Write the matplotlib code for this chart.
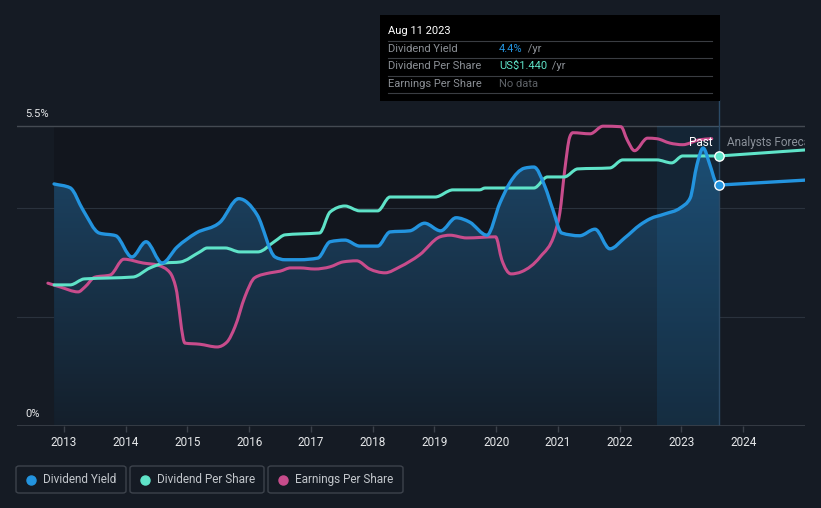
#!/usr/bin/env python
"""Dividend yield / DPS / EPS history chart, dark theme"""

import matplotlib
matplotlib.use('Agg')
import matplotlib.pyplot as plt
import matplotlib.patches as mpatches
from matplotlib.lines import Line2D
from matplotlib.path import Path
import numpy as np

plt.rcParams['font.family'] = ['Roboto', 'DejaVu Sans']

# --- data ---
yield_years = [2012.84, 2013.10, 2013.31, 2013.57, 2013.84, 2014.10, 2014.33, 2014.59, 2014.83,
               2015.14, 2015.53, 2015.83, 2016.13, 2016.42, 2016.58, 2016.82, 2017.11, 2017.31,
               2017.55, 2017.79, 2018.08, 2018.28, 2018.60, 2018.84, 2019.10, 2019.35, 2019.57,
               2019.85, 2020.06, 2020.22, 2020.46, 2020.61, 2020.79, 2020.92, 2021.06, 2021.35,
               2021.60, 2021.84, 2022.08, 2022.33, 2022.49, 2022.73, 2022.98, 2023.14, 2023.25,
               2023.35, 2023.46, 2023.56, 2023.61]
yield_pct = [4.44, 4.37, 3.96, 3.54, 3.49, 3.10, 3.38, 2.99, 3.28,
             3.54, 3.74, 4.17, 3.87, 3.10, 3.05, 3.05, 3.08, 3.38,
             3.41, 3.30, 3.30, 3.56, 3.58, 3.72, 3.58, 3.82, 3.74,
             3.50, 4.09, 4.46, 4.73, 4.75, 4.39, 3.96, 3.54, 3.49,
             3.61, 3.25, 3.45, 3.69, 3.80, 3.89, 4.00, 4.18, 4.79,
             5.10, 4.79, 4.46, 4.42]
yield_fc_years = [2023.61, 2025.0]
yield_fc_pct = [4.42, 4.51]

dps_years = [2012.84, 2013.10, 2013.33, 2013.75, 2014.12, 2014.39, 2014.64, 2014.88, 2015.20,
             2015.32, 2015.61, 2015.85, 2016.14, 2016.42, 2016.58, 2016.82, 2017.14, 2017.31,
             2017.55, 2017.79, 2018.08, 2018.28, 2019.01, 2019.30, 2019.73, 2019.82, 2020.61,
             2020.83, 2021.10, 2021.32, 2021.84, 2022.05, 2022.60, 2022.84, 2023.02, 2023.61]
dps_usd = [0.753, 0.753, 0.785, 0.790, 0.795, 0.843, 0.870, 0.875, 0.929,
           0.950, 0.950, 0.929, 0.929, 0.987, 1.020, 1.025, 1.030, 1.142,
           1.174, 1.148, 1.148, 1.222, 1.222, 1.260, 1.260, 1.270, 1.270,
           1.329, 1.329, 1.372, 1.377, 1.420, 1.420, 1.404, 1.441, 1.441]
dps_fc_years = [2023.61, 2025.0]
dps_fc_usd = [1.441, 1.473]
DPS_AXIS_MAX = 1.6  # hidden DPS axis: 0..1.6 maps onto 0..5.5%

# EPS is drawn on its own hidden scale; values here are already in chart units
eps_years = [2012.74, 2012.94, 2013.23, 2013.34, 2013.50, 2013.75, 2013.97, 2014.28, 2014.52,
             2014.72, 2014.81, 2014.96, 2015.20, 2015.48, 2015.64, 2015.77, 2015.93, 2016.09,
             2016.34, 2016.50, 2016.67, 2016.82, 2017.06, 2017.31, 2017.52, 2017.74, 2017.95,
             2018.20, 2018.44, 2018.76, 2019.09, 2019.25, 2019.52, 2019.99, 2020.09, 2020.24,
             2020.41, 2020.71, 2020.95, 2021.03, 2021.11, 2021.19, 2021.24, 2021.52, 2021.73,
             2022.02, 2022.12, 2022.24, 2022.45, 2022.60, 2022.81, 2023.02, 2023.29, 2023.49]
eps_scaled = [2.62, 2.55, 2.46, 2.55, 2.73, 2.77, 3.06, 2.99, 2.95,
              2.81, 2.55, 1.52, 1.50, 1.45, 1.54, 1.82, 2.37, 2.72,
              2.81, 2.84, 2.90, 2.90, 2.88, 2.92, 3.01, 3.03, 2.88,
              2.81, 2.92, 3.14, 3.47, 3.50, 3.45, 3.47, 3.05, 2.79,
              2.83, 3.10, 3.54, 3.91, 4.70, 5.30, 5.38, 5.36, 5.50,
              5.49, 5.25, 5.05, 5.28, 5.27, 5.19, 5.16, 5.25, 5.27]

tick_years = list(range(2013, 2025))
today = 2023.61
highlight_start = 2022.60

BG = '#151b24'
BLUE = '#2394df'
TEAL = '#5fe3c8'
PINK = '#c84c8c'
W, H = 821, 508


def monotone_path(xs, ys):
    """Bezier path through the points with monotone-x tangents (smooth line look)."""
    x = np.asarray(xs, float)
    y = np.asarray(ys, float)
    h = np.diff(x)
    s = np.diff(y) / h
    m = np.zeros(len(x))
    m[0], m[-1] = s[0], s[-1]
    for i in range(1, len(x) - 1):
        p = (s[i - 1] * h[i] + s[i] * h[i - 1]) / (h[i - 1] + h[i])
        m[i] = (np.sign(s[i - 1]) + np.sign(s[i])) * min(abs(s[i - 1]), abs(s[i]), 0.5 * abs(p))
    verts = [(x[0], y[0])]
    codes = [Path.MOVETO]
    for i in range(len(x) - 1):
        d = h[i] / 3
        verts += [(x[i] + d, y[i] + m[i] * d), (x[i + 1] - d, y[i + 1] - m[i + 1] * d), (x[i + 1], y[i + 1])]
        codes += [Path.CURVE4] * 3
    return verts, codes


def smooth_line(ax, xs, ys, color, lw, z):
    verts, codes = monotone_path(xs, ys)
    ax.add_patch(mpatches.PathPatch(Path(verts, codes), facecolor='none', edgecolor=color,
                                    lw=lw, zorder=z, joinstyle='round', capstyle='round'))


fig = plt.figure(figsize=(W / 100, H / 100), dpi=100, facecolor=BG)
ax = fig.add_axes([17 / W, (H - 426) / H, (805 - 17) / W, (426 - 100) / H])
ax.set_facecolor(BG)
ax.set_xlim(2012.24, 2025.0)
ax.set_ylim(0, 5.98)
for s in ax.spines.values():
    s.set_visible(False)

# darker "past" area
ax.fill_between([yield_years[0], today], 0, 5.5, color='#12161e', zorder=0, lw=0)

# grid
for g in [2, 4]:
    ax.axhline(g, color='#2a323d', lw=0.8, zorder=1)
ax.axhline(5.5, color='#444a52', lw=1.0, zorder=1)
ax.axhline(0, color='#3b414a', lw=1.2, zorder=5)

# gradient fill under dividend yield (clipped to the smoothed area)
verts, codes = monotone_path(yield_years, yield_pct)
verts += [(yield_years[-1], 0), (yield_years[0], 0), (yield_years[0], 0)]
codes += [Path.LINETO, Path.LINETO, Path.CLOSEPOLY]
area = mpatches.PathPatch(Path(verts, codes), facecolor='none', edgecolor='none', transform=ax.transData)
ax.add_patch(area)
grad = np.linspace(0, 1, 256).reshape(-1, 1)
cmap = matplotlib.colors.LinearSegmentedColormap.from_list('g', ['#141f2b', '#1c4566'])
im = ax.imshow(grad, cmap=cmap, origin='lower', aspect='auto',
               extent=[yield_years[0], today, 0, max(yield_pct)], zorder=2)
im.set_clip_path(area)

# last-year highlight band and today marker
ax.fill_between([highlight_start, today], 0, 5.5, color=BLUE, alpha=0.12, lw=0, zorder=3)
ax.plot([today, today], [0, 5.98], color='#2b4a66', lw=1.0, zorder=3)

# lines
dps_plot = [v * 5.5 / DPS_AXIS_MAX for v in dps_usd]
dps_fc_plot = [v * 5.5 / DPS_AXIS_MAX for v in dps_fc_usd]
smooth_line(ax, eps_years, eps_scaled, PINK, 2.2, 6)
smooth_line(ax, dps_years, dps_plot, TEAL, 2.2, 6)
ax.plot(dps_fc_years, dps_fc_plot, color=TEAL, lw=2.2, zorder=6)
smooth_line(ax, yield_years, yield_pct, BLUE, 2.4, 7)
ax.plot(yield_fc_years, yield_fc_pct, color=BLUE, lw=2.4, zorder=7)
ax.scatter([today], [dps_plot[-1]], s=45, color=TEAL, edgecolors='white', linewidths=1.0, zorder=9)
ax.scatter([today], [yield_pct[-1]], s=45, color=BLUE, edgecolors='white', linewidths=1.0, zorder=9)

# labels inside the plot
ax.text(today - 0.1, 5.2, 'Past', color='white', fontsize=8.5, ha='right', va='center', zorder=10)
ax.text(today + 0.13, 5.2, 'Analysts Forecasts', color='#8a9099', fontsize=8.5,
        ha='left', va='center', zorder=10, clip_on=True)

# y labels
ax.text(0.01, 5.5 + 0.22, '5.5%', transform=ax.get_yaxis_transform(), color='#e6e8ea',
        fontsize=8, ha='left', va='center')
ax.text(0.01, 0.22, '0%', transform=ax.get_yaxis_transform(), color='#e6e8ea',
        fontsize=8, ha='left', va='center')
ax.set_yticks([])

# x ticks
ax.set_xticks(tick_years)
ax.set_xticklabels([str(y) for y in tick_years])
ax.tick_params(axis='x', colors='#3b414a', length=4, width=1, labelcolor='#e6e8ea',
               labelsize=8.5, pad=3)

# tooltip box
def fx(px):
    return px / W

def fy(py):
    return 1 - py / H

fig.patches.append(mpatches.Rectangle((fx(380), fy(101)), fx(720) - fx(380), fy(15) - fy(101),
                                      transform=fig.transFigure, facecolor='black', edgecolor='none', zorder=20))
fig.text(fx(388), fy(31), 'Aug 11 2023', color='white', fontsize=8, va='center', zorder=21)
rows = [('Dividend Yield', '4.4%', BLUE, 49), ('Dividend Per Share', 'US$1.440', TEAL, 66),
        ('Earnings Per Share', 'No data', '#5e6267', 84)]
for label, value, col, py in rows:
    fig.text(fx(388), fy(py), label, color='#8c9096', fontsize=8, va='center', zorder=21)
    t = fig.text(fx(499), fy(py), value, color=col, fontsize=8, va='center', zorder=21)
    if value != 'No data':
        fig.canvas.draw()
        bb = t.get_window_extent()
        fig.text(bb.x1 / W + 2 / W, fy(py), ' /yr', color='#8c9096', fontsize=8, va='center', zorder=21)
for py in [41, 58, 76, 93]:
    fig.add_artist(Line2D([fx(388), fx(712)], [fy(py), fy(py)], color='#3a3d42', lw=0.8, zorder=21))

# legend boxes
legend_items = [('Dividend Yield', BLUE, 16, 126), ('Dividend Per Share', TEAL, 130, 264),
                ('Earnings Per Share', PINK, 268, 403)]
for label, col, x0, x1 in legend_items:
    fig.patches.append(mpatches.FancyBboxPatch((fx(x0), fy(493)), fx(x1) - fx(x0), fy(466) - fy(493),
                                               boxstyle='round,pad=0,rounding_size=0.004',
                                               transform=fig.transFigure, facecolor='none',
                                               edgecolor='#3d434c', lw=1.0))
    fig.add_artist(Line2D([fx(x0 + 15)], [fy(479.5)], marker='o', markersize=6.5, color=col, lw=0))
    fig.text(fx(x0 + 27), fy(479.5), label, color='#c3c7cc', fontsize=8.5, va='center')

plt.savefig('out.png', dpi=100, facecolor=BG)
plt.close()
